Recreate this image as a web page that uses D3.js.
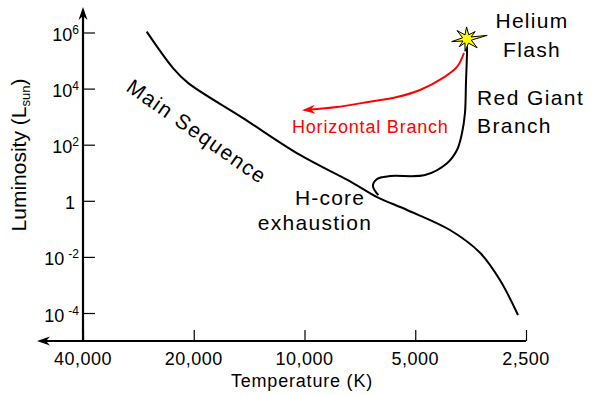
<!DOCTYPE html>
<html lang="en">
<head>
<meta charset="utf-8">
<title>HR diagram - red giant track</title>
<script src="https://d3js.org/d3.v7.min.js"></script>
<style>
  body { margin: 0; background: #fff; }
  text { font-family: "Liberation Sans", Arial, Helvetica, sans-serif; fill: #000; }
</style>
</head>
<body>
<script>
// axis ticks
var tempTicks = [40000, 20000, 10000, 5000, 2500];
var tempLabels = ["40,000", "20,000", "10,000", "5,000", "2,500"];
var lumTicks = [1e6, 1e4, 1e2, 1, 1e-2, 1e-4];
var lumBase = ["10", "10", "10", "1", "10", "10"];
var lumExp = ["6", "4", "2", "", "-2", "-4"];

// main sequence (temperature K, luminosity L_sun)
var msTemp = [26850, 22770, 20735, 14695, 10285, 7381, 6350, 5263, 4024, 3333, 2943, 2628];
var msLum = [1.07e6, 5.4e4, 1.6e4, 890, 43, 4.3, 1.36, 0.47, 0.091, 0.014, 0.0015, 8.5e-5];

// red giant branch, from core exhaustion up to the helium flash
var rgbTemp = [6300, 6515, 6350, 5857, 4705, 4098, 3850, 3731, 3663, 3640, 3617, 3617];
var rgbLum = [1.6, 3.4, 6.0, 7.6, 8.3, 22, 65, 263, 1350, 1.6e4, 1.86e5, 5.4e5];

// horizontal branch (red arrow)
var hbTemp = [3686, 3850, 4202, 4853, 5605, 6935, 8160, 9780];
var hbLum = [1.86e5, 5.9e4, 2.4e4, 8900, 5000, 3100, 2200, 1750];

// helium flash
var flashTemp = 3617;
var flashLum = 5.9e5;

var w = 591, h = 395;
var axisY = 341;

var x = d3.scaleLog().domain([40000, 2500]).range([83, 526]);
var y = d3.scaleLog().domain([1e-4, 1e6]).range([313, 32.5]);

var svg = d3.select("body").append("svg")
  .attr("width", w)
  .attr("height", h);

svg.append("rect").attr("width", w).attr("height", h).attr("fill", "#fff");

var defs = svg.append("defs");
function addArrow(id, color) {
  defs.append("marker")
    .attr("id", id)
    .attr("viewBox", "-8 -5 16 10")
    .attr("refX", 0).attr("refY", 0)
    .attr("markerWidth", 16).attr("markerHeight", 10)
    .attr("markerUnits", "userSpaceOnUse")
    .attr("orient", "auto")
    .append("path")
    .attr("d", "M6,0L-7,-4.5L-3,0L-7,4.5Z")
    .attr("fill", color);
}
addArrow("arrowBlack", "#000");
addArrow("arrowRed", "#ff0000");

// axes lines with arrow heads
var x0 = x(40000);
svg.append("path")
  .attr("d", "M" + x0 + "," + axisY + "L" + x0 + "," + 13)
  .attr("stroke", "#000").attr("stroke-width", 2.2).attr("fill", "none")
  .attr("marker-end", "url(#arrowBlack)");
svg.append("path")
  .attr("d", "M" + x(2500) + "," + axisY + "L" + 43 + "," + axisY)
  .attr("stroke", "#000").attr("stroke-width", 2.2).attr("fill", "none")
  .attr("marker-end", "url(#arrowBlack)");

// ticks
var yAxis = svg.append("g")
  .attr("transform", "translate(" + x0 + ",0)")
  .call(d3.axisRight(y).tickValues(lumTicks).tickSize(12).tickFormat(""));
yAxis.select(".domain").remove();

var xAxis = svg.append("g")
  .attr("transform", "translate(0," + axisY + ")")
  .call(d3.axisTop(x).tickValues(tempTicks).tickSize(11).tickFormat(""));
xAxis.select(".domain").remove();
svg.selectAll(".tick line").attr("stroke", "#000").attr("stroke-width", 1.2);

// tick labels
svg.selectAll("text.xlab")
  .data(tempTicks)
  .enter().append("text")
  .attr("class", "xlab")
  .attr("x", function (d) { return x(d); })
  .attr("y", 365)
  .attr("text-anchor", "middle")
  .style("font-size", "18px")
  .style("letter-spacing", "0.5px")
  .text(function (d, i) { return tempLabels[i]; });

var ylab = svg.selectAll("text.ylab")
  .data(lumTicks)
  .enter().append("text")
  .attr("class", "ylab")
  .attr("x", function (d, i) { return lumExp[i] === "" ? 75 : 79; })
  .attr("y", function (d) { return y(d) + 8.5; })
  .attr("text-anchor", "end")
  .style("font-size", "18px");
ylab.append("tspan").text(function (d, i) { return lumBase[i]; });
ylab.append("tspan")
  .attr("dx", function (d, i) { return lumExp[i].charAt(0) === "-" ? 4 : 0; })
  .attr("dy", -7)
  .style("font-size", "12px")
  .text(function (d, i) { return lumExp[i]; });

// axis titles
svg.append("text")
  .attr("x", 302).attr("y", 387)
  .attr("text-anchor", "middle")
  .style("font-size", "18px")
  .style("letter-spacing", "0.8px")
  .text("Temperature (K)");

var ytitle = svg.append("text")
  .attr("transform", "translate(26,155) rotate(-90)")
  .attr("text-anchor", "middle")
  .style("font-size", "21px");
ytitle.append("tspan").text("Luminosity (L");
ytitle.append("tspan").attr("dy", 4).style("font-size", "13px").text("sun");
ytitle.append("tspan").attr("dy", -4).text(")");

// curves
var line = d3.line()
  .x(function (d) { return x(d[0]); })
  .y(function (d) { return y(d[1]); })
  .curve(d3.curveCatmullRom.alpha(0.5));

svg.append("path")
  .datum(d3.zip(msTemp, msLum))
  .attr("d", line)
  .attr("fill", "none").attr("stroke", "#000").attr("stroke-width", 2);

svg.append("path")
  .datum(d3.zip(rgbTemp, rgbLum))
  .attr("d", line)
  .attr("fill", "none").attr("stroke", "#000").attr("stroke-width", 2);

svg.append("path")
  .datum(d3.zip(hbTemp, hbLum))
  .attr("d", line)
  .attr("fill", "none").attr("stroke", "#ff0000").attr("stroke-width", 2)
  .attr("marker-end", "url(#arrowRed)");

// helium flash star
var spikeAng = [-92, -42, -10, 41, 99, 135, 170, 220];
var spikeLen = [12, 11, 20.5, 13.5, 12.5, 11, 15.5, 13];
var starPts = [];
spikeAng.forEach(function (a, i) {
  var r1 = a * Math.PI / 180;
  var r2 = (a + (((spikeAng[(i + 1) % 8] - a + 360) % 360) / 2)) * Math.PI / 180;
  starPts.push([Math.cos(r1) * spikeLen[i], Math.sin(r1) * spikeLen[i]]);
  starPts.push([Math.cos(r2) * 4.5, Math.sin(r2) * 4.5]);
});
svg.append("path")
  .attr("transform", "translate(" + x(flashTemp) + "," + y(flashLum) + ")")
  .attr("d", "M" + starPts.join("L") + "Z")
  .attr("fill", "#ffff00").attr("stroke", "#000").attr("stroke-width", 1)
  .attr("stroke-linejoin", "miter");

// annotations
function label(txt, lx, ly, anchor, size, color, spacing) {
  return svg.append("text")
    .attr("x", lx).attr("y", ly)
    .attr("text-anchor", anchor)
    .style("font-size", size + "px")
    .style("letter-spacing", spacing + "px")
    .style("fill", color)
    .text(txt);
}
label("Helium", 532, 28, "middle", 21, "#000", 1.3);
label("Flash", 532, 57, "middle", 21, "#000", 1.3);
label("Red Giant", 477, 105, "start", 21, "#000", 1.4);
label("Branch", 477, 133, "start", 21, "#000", 1.4);
label("Horizontal Branch", 292, 133, "start", 18, "#ff0000", 0.8);
label("H-core", 330, 205, "middle", 21, "#000", 1.2);
label("exhaustion", 315, 230, "middle", 21, "#000", 1.3);

svg.append("text")
  .attr("transform", "translate(125,90) rotate(35)")
  .style("font-size", "21px")
  .style("letter-spacing", "1.5px")
  .text("Main Sequence");
</script>
</body>
</html>
